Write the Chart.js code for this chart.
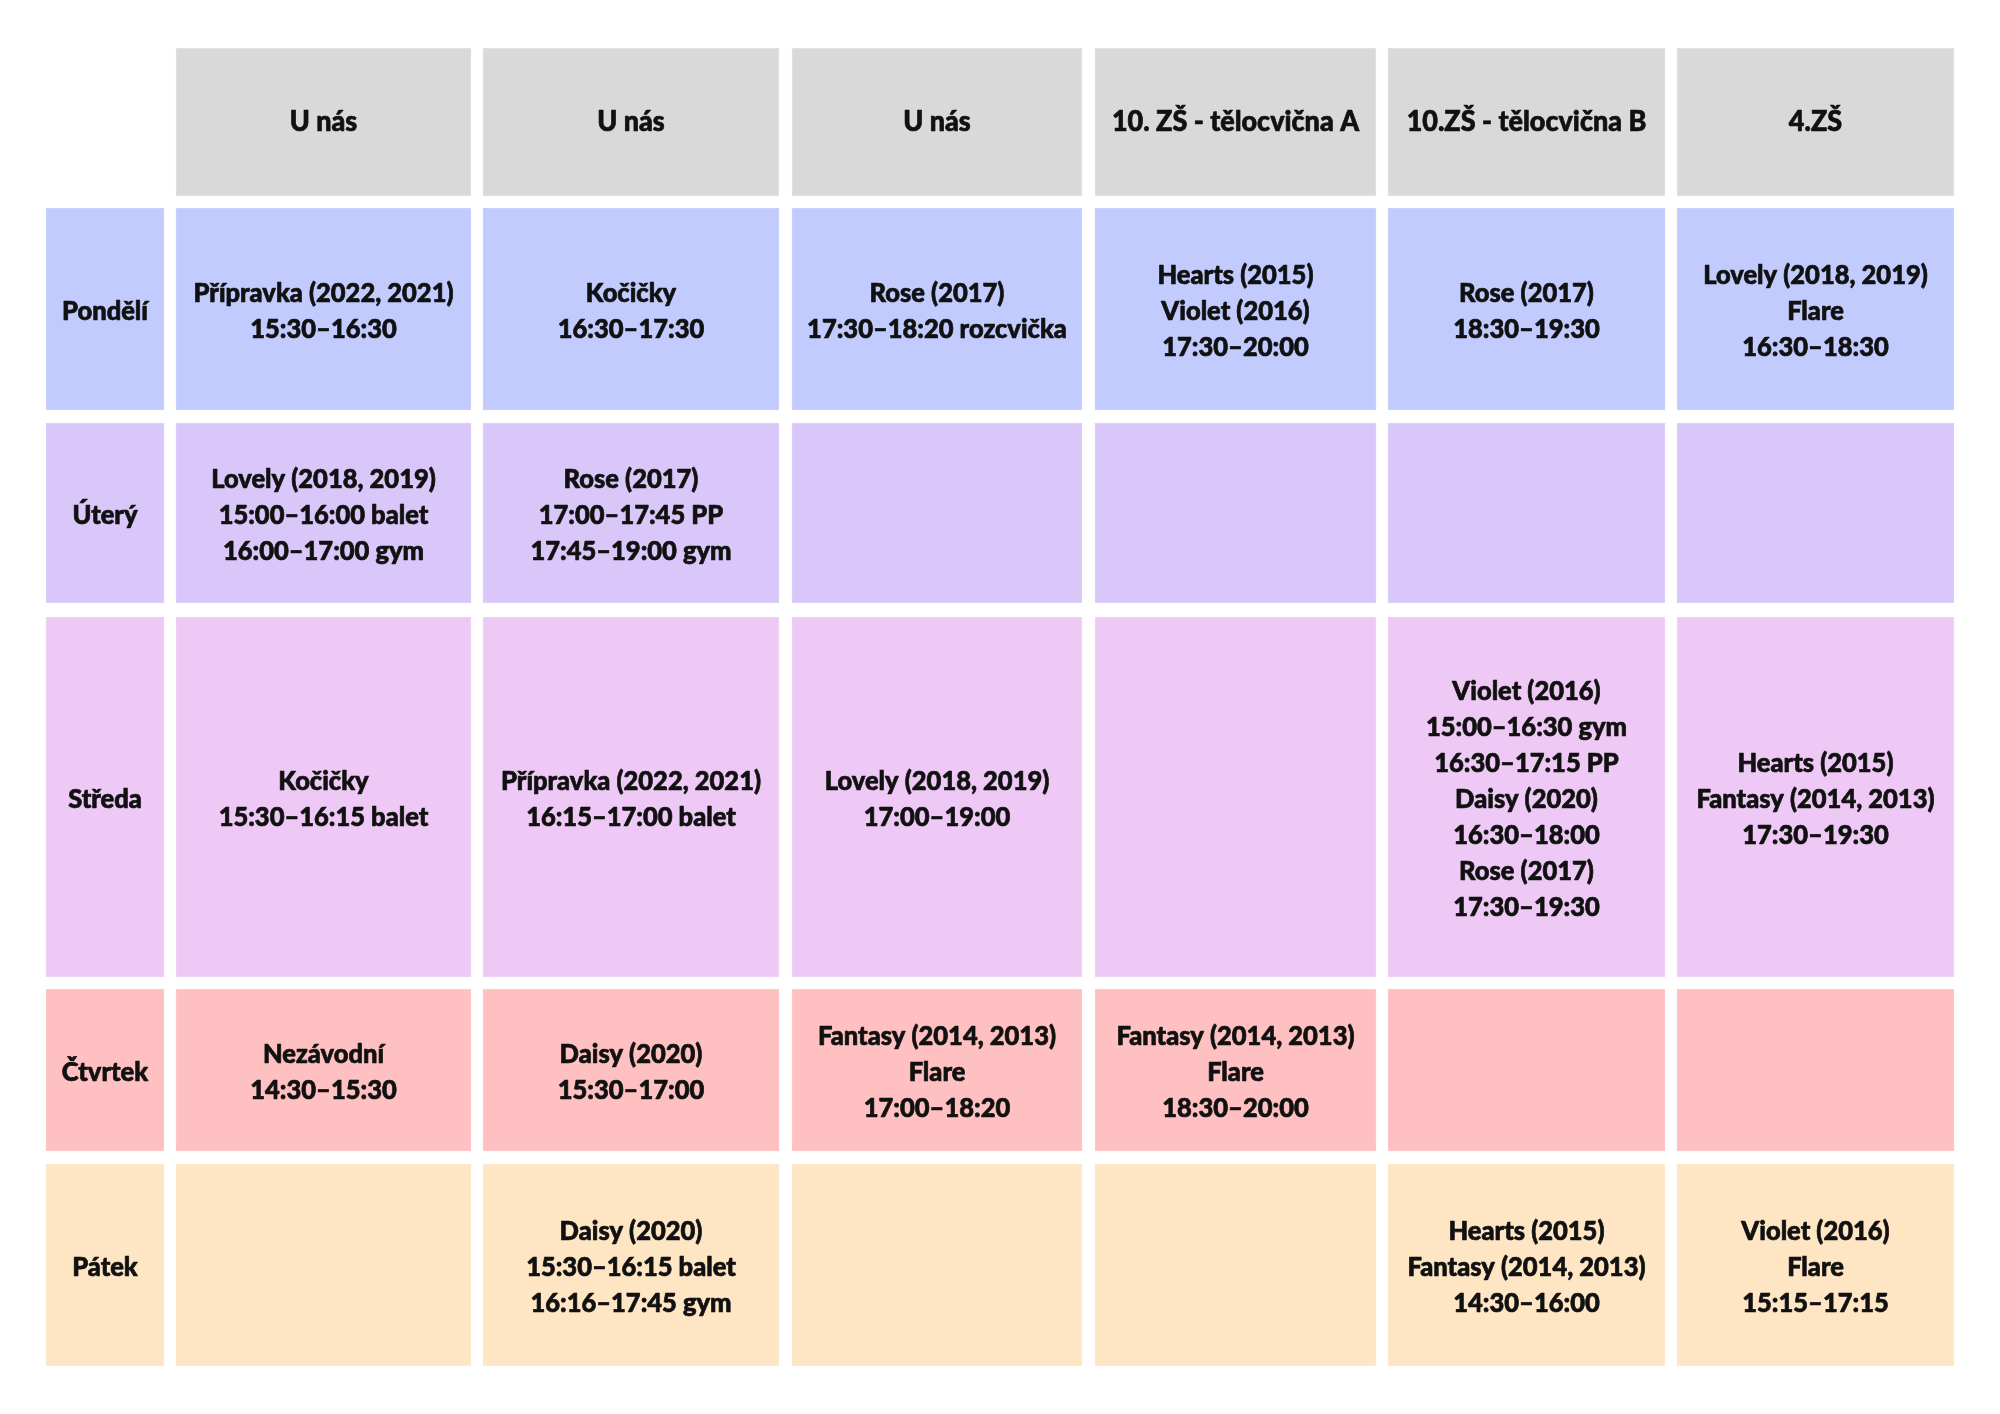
<!DOCTYPE html>
<html>
<head>
<meta charset="utf-8">
<script src="https://cdn.jsdelivr.net/npm/chart.js@4.4.1/dist/chart.umd.min.js"></script>
<style>
  html, body { margin: 0; padding: 0; background: #ffffff; }
  #wrap { width: 2000px; height: 1414px; }
</style>
</head>
<body>
<div id="wrap"><canvas id="c" width="2000" height="1414"></canvas></div>
<script>
// ---- data ----
const columns = ["", "U nás", "U nás", "U nás", "10. ZŠ - tělocvična A", "10.ZŠ - tělocvična B", "4.ZŠ"];
const days = ["Pondělí", "Úterý", "Středa", "Čtvrtek", "Pátek"];
const monday = [
  "Přípravka (2022, 2021)\n15:30–16:30",
  "Kočičky\n16:30–17:30",
  "Rose (2017)\n17:30–18:20 rozcvička",
  "Hearts (2015)\nViolet (2016)\n17:30–20:00",
  "Rose (2017)\n18:30–19:30",
  "Lovely (2018, 2019)\nFlare\n16:30–18:30"
];
const tuesday = [
  "Lovely (2018, 2019)\n15:00–16:00 balet\n16:00–17:00 gym",
  "Rose (2017)\n17:00–17:45 PP\n17:45–19:00 gym",
  "", "", "", ""
];
const wednesday = [
  "Kočičky\n15:30–16:15 balet",
  "Přípravka (2022, 2021)\n16:15–17:00 balet",
  "Lovely (2018, 2019)\n17:00–19:00",
  "",
  "Violet (2016)\n15:00–16:30 gym\n16:30–17:15 PP\nDaisy (2020)\n16:30–18:00\nRose (2017)\n17:30–19:30",
  "Hearts (2015)\nFantasy (2014, 2013)\n17:30–19:30"
];
const thursday = [
  "Nezávodní\n14:30–15:30",
  "Daisy (2020)\n15:30–17:00",
  "Fantasy (2014, 2013)\nFlare\n17:00–18:20",
  "Fantasy (2014, 2013)\nFlare\n18:30–20:00",
  "", ""
];
const friday = [
  "",
  "Daisy (2020)\n15:30–16:15 balet\n16:16–17:45 gym",
  "", "",
  "Hearts (2015)\nFantasy (2014, 2013)\n14:30–16:00",
  "Violet (2016)\nFlare\n15:15–17:15"
];
const schedule = [monday, tuesday, wednesday, thursday, friday];

// ---- layout & style (not data) ----
const COL_EDGES = [[46,164],[176,471],[483,779],[792,1082],[1095,1376],[1388,1665],[1677,1954]];
const ROW_EDGES = [[48,196],[208,410],[423,603],[617,977],[989,1151],[1164,1366]];
const ROW_FILL = ["#d9d9d9", "#c1cbfd", "#d9c7f9", "#eec9f5", "#fec0c1", "#fee5c4"];
const ROW_EDGE = ["#e3e3e3", "#cbd4fd", "#dfd0fa", "#f2d2f7", "#fecacb", "#feeacf"];
const FONT_FAMILY = "Lato, 'Open Sans', 'DejaVu Sans', sans-serif";
const BODY_SIZE = 26, HEAD_SIZE = 27.5;
const LINE_H = 36;
const TARGET_SAMPLE = "Přípravka (2022, 2021)";
const TARGET_SAMPLE_W = 260;

function cellText(r, c) {
  if (r === 0) return columns[c];
  if (c === 0) return days[r - 1];
  return schedule[r - 1][c - 1];
}

const datasets = COL_EDGES.map((edge, c) => {
  const data = [];
  ROW_EDGES.forEach((re, r) => {
    if (r === 0 && c === 0) return;
    data.push({ x: (edge[0] + edge[1]) / 2, y: [re[0], re[1]], row: r, label: cellText(r, c) });
  });
  return {
    label: columns[c] || "den",
    data: data,
    barThickness: edge[1] - edge[0],
    backgroundColor: (ctx) => ROW_FILL[ctx.raw ? ctx.raw.row : 0],
    borderColor: (ctx) => ROW_EDGE[ctx.raw ? ctx.raw.row : 0],
    borderWidth: 1,
    borderSkipped: false,
    grouped: false
  };
});

const textPlugin = {
  id: "cellText",
  afterDatasetsDraw(chart) {
    const ctx = chart.ctx;
    ctx.save();
    ctx.font = "900 " + BODY_SIZE + "px " + FONT_FAMILY;
    const sx = Math.min(1, TARGET_SAMPLE_W / ctx.measureText(TARGET_SAMPLE).width);
    ctx.fillStyle = "#111111";
    ctx.strokeStyle = "#111111";
    ctx.lineWidth = 0.7;
    ctx.lineJoin = "round";
    ctx.textAlign = "center";
    ctx.textBaseline = "middle";
    chart.data.datasets.forEach((ds, di) => {
      const meta = chart.getDatasetMeta(di);
      meta.data.forEach((el, i) => {
        const raw = ds.data[i];
        if (!raw || !raw.label) return;
        const isHead = raw.row === 0;
        ctx.font = "900 " + (isHead ? HEAD_SIZE : BODY_SIZE) + "px " + FONT_FAMILY;
        const lines = raw.label.split("\n");
        const cx = el.x;
        const cy = (el.y + el.base) / 2;
        const startY = cy - (lines.length - 1) * LINE_H / 2;
        lines.forEach((ln, k) => {
          ctx.save();
          ctx.translate(cx, startY + k * LINE_H + (isHead ? 0 : 3));
          ctx.scale(sx, 1);
          ctx.fillText(ln, 0, 0);
          ctx.strokeText(ln, 0, 0);
          ctx.restore();
        });
      });
    });
    ctx.restore();
  }
};

new Chart(document.getElementById("c"), {
  type: "bar",
  data: { datasets },
  options: {
    responsive: false,
    devicePixelRatio: 1,
    animation: false,
    layout: { padding: 0 },
    plugins: { legend: { display: false }, tooltip: { enabled: false }, title: { display: false } },
    scales: {
      x: { type: "linear", min: 0, max: 2000, display: false, offset: false },
      y: { type: "linear", min: 0, max: 1414, reverse: true, display: false }
    }
  },
  plugins: [textPlugin]
});
</script>
</body>
</html>
